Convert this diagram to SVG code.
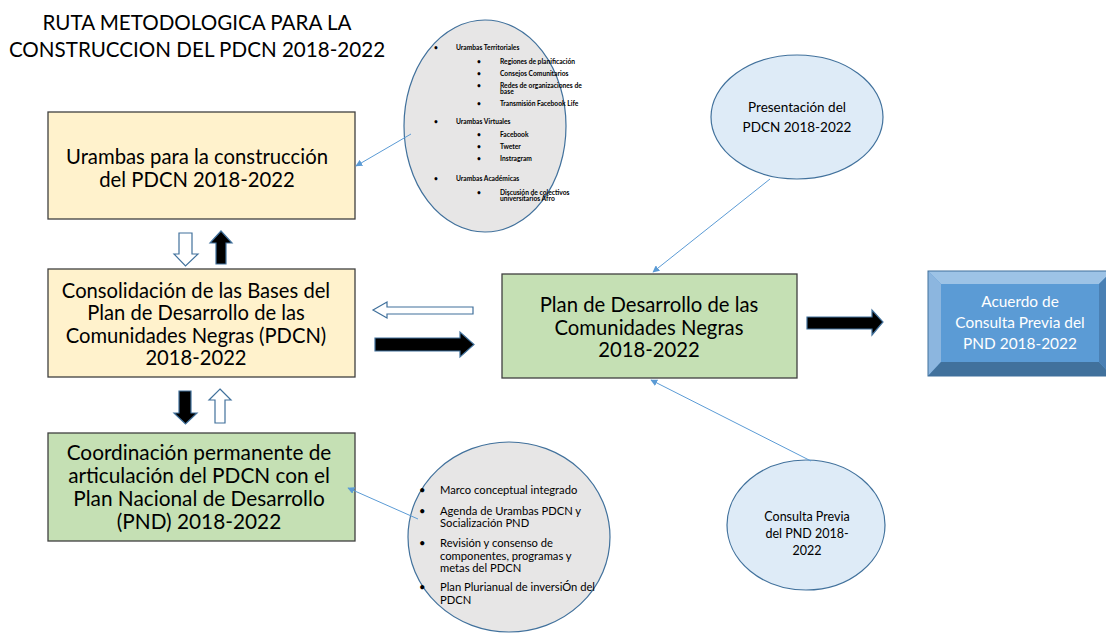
<svg xmlns="http://www.w3.org/2000/svg" width="1106" height="639" viewBox="0 0 1106 639">
<defs>
<style>
.t{font-family:Lato,"Liberation Sans",sans-serif;fill:#000;text-anchor:middle}
.bx{stroke:#404040;stroke-width:1.3}
.y{fill:#fff2cc}
.g{fill:#c5e0b4}
.el{fill:#deebf7;stroke:#41719c;stroke-width:1.2}
.gr{fill:#e7e6e6;stroke:#41719c;stroke-width:1.2}
.s{font-family:Lato,"Liberation Sans",sans-serif;font-size:6.7px;font-weight:bold;fill:#000}
.m{font-family:Lato,"Liberation Sans",sans-serif;font-size:11.2px;fill:#000}
.w{fill:#fff}
.ho{fill:#fff;stroke:#41719c;stroke-width:1.2}
.bk{fill:#000;stroke:#41719c;stroke-width:1.2}
.c{stroke:#5b9bd5;stroke-width:1;fill:none;marker-end:url(#ah)}
</style>
<marker id="ah" viewBox="0 0 10 10" refX="9" refY="5" markerWidth="7" markerHeight="7" orient="auto" markerUnits="userSpaceOnUse">
<path d="M0,0 L10,5 L0,10 z" fill="#5b9bd5"/>
</marker>
</defs>
<rect width="1106" height="639" fill="#fff"/>
<g id="title">
<text class="t" x="197" y="30" font-size="20.6">RUTA METODOLOGICA PARA LA</text>
<text class="t" x="197" y="57" font-size="20.6">CONSTRUCCION DEL PDCN 2018-2022</text>
</g>
<g id="urambas">
<rect class="bx y" x="48" y="112" width="307" height="107"/>
<text class="t" font-size="20.3" x="197" y="164">Urambas para la construcción</text>
<text class="t" font-size="20.3" x="197" y="187">del PDCN 2018-2022</text>
</g>
<g id="consolidacion">
<rect class="bx y" x="48" y="269" width="307" height="108"/>
<text class="t" font-size="20.2" x="196" y="298">Consolidación de las Bases del</text>
<text class="t" font-size="20.2" x="196" y="320">Plan de Desarrollo de las</text>
<text class="t" font-size="20.2" x="196" y="343">Comunidades Negras (PDCN)</text>
<text class="t" font-size="20.2" x="196" y="365">2018-2022</text>
</g>
<g id="coordinacion">
<rect class="bx g" x="48" y="433" width="307" height="108"/>
<text class="t" font-size="20.8" x="199" y="460">Coordinación permanente de</text>
<text class="t" font-size="20.8" x="199" y="483">articulación del PDCN con el</text>
<text class="t" font-size="20.8" x="199" y="506">Plan Nacional de Desarrollo</text>
<text class="t" font-size="20.8" x="199" y="529">(PND) 2018-2022</text>
</g>
<g id="plan">
<rect class="bx g" x="502" y="274" width="295" height="104"/>
<text class="t" font-size="20.3" x="649" y="312">Plan de Desarrollo de las</text>
<text class="t" font-size="20.3" x="649" y="335">Comunidades Negras</text>
<text class="t" font-size="20.3" x="649" y="357">2018-2022</text>
</g>
<g id="acuerdo">
<rect x="928" y="271" width="184" height="105" fill="#5b9bd5"/>
<polygon points="928,271 1112,271 1099,284 941,284" fill="#9dc3e6"/>
<polygon points="928,271 941,284 941,362 928,376" fill="#8cb6df"/>
<polygon points="928,376 941,362 1099,362 1112,376" fill="#41719c"/>
<polygon points="1112,271 1099,284 1099,362 1112,376" fill="#4a80b4"/>
<rect x="941" y="284" width="158" height="78" fill="#5b9bd5"/>
<rect x="928" y="271" width="184" height="105" fill="none" stroke="#41719c" stroke-width="1"/>
<text class="t w" font-size="15.4" x="1020" y="307">Acuerdo de</text>
<text class="t w" font-size="15.4" x="1020" y="328">Consulta Previa del</text>
<text class="t w" font-size="15.4" x="1020" y="349">PND 2018-2022</text>
</g>
<g id="presentacion">
<ellipse class="el" cx="797" cy="117" rx="86" ry="62"/>
<text class="t" font-size="13.5" x="797" y="112">Presentación del</text>
<text class="t" font-size="13.5" x="797" y="132">PDCN 2018-2022</text>
</g>
<g id="consulta">
<ellipse class="el" cx="806" cy="525" rx="79" ry="65"/>
<text class="t" font-size="12.5" x="807" y="521">Consulta Previa</text>
<text class="t" font-size="12.5" x="807" y="538">del PND 2018-</text>
<text class="t" font-size="12.5" x="807" y="555">2022</text>
</g>
<g id="urambas-detalle">
<ellipse class="gr" cx="485" cy="126" rx="81" ry="106"/>
<text class="s" x="434" y="50">•</text><text class="s" x="456" y="50">Urambas Territoriales</text>
<text class="s" x="477" y="64">•</text><text class="s" x="500" y="64">Regiones de planificación</text>
<text class="s" x="477" y="76">•</text><text class="s" x="500" y="76">Consejos Comunitarios</text>
<text class="s" x="477" y="88">•</text><text class="s" x="500" y="88">Redes de organizaciones de</text>
<text class="s" x="500" y="94">base</text>
<text class="s" x="477" y="106">•</text><text class="s" x="500" y="106">Transmisión Facebook Life</text>
<text class="s" x="434" y="124">•</text><text class="s" x="456" y="124">Urambas Virtuales</text>
<text class="s" x="477" y="137">•</text><text class="s" x="500" y="137">Facebook</text>
<text class="s" x="477" y="149">•</text><text class="s" x="500" y="149">Tweter</text>
<text class="s" x="477" y="161">•</text><text class="s" x="500" y="161">Instragram</text>
<text class="s" x="434" y="181">•</text><text class="s" x="456" y="181">Urambas Académicas</text>
<text class="s" x="477" y="195">•</text><text class="s" x="500" y="195">Discusión de colectivos</text>
<text class="s" x="500" y="201">universitarios Afro</text>
</g>
<g id="coordinacion-detalle">
<ellipse class="gr" cx="509" cy="537" rx="101" ry="95"/>
<text class="m" x="419" y="494">•</text><text class="m" x="440" y="494">Marco conceptual integrado</text>
<text class="m" x="419" y="515">•</text><text class="m" x="440" y="515">Agenda de Urambas PDCN y</text>
<text class="m" x="440" y="527">Socialización PND</text>
<text class="m" x="419" y="547">•</text><text class="m" x="440" y="547">Revisión y consenso de</text>
<text class="m" x="440" y="560">componentes, programas y</text>
<text class="m" x="440" y="572">metas del PDCN</text>
<text class="m" x="419" y="591">•</text><text class="m" x="440" y="591">Plan Plurianual de inversiÓn del</text>
<text class="m" x="440" y="604">PDCN</text>
</g>
<g id="connectors">
<line class="c" x1="411" y1="134" x2="356" y2="166"/>
<line class="c" x1="418" y1="519" x2="348" y2="488"/>
<line class="c" x1="770" y1="179" x2="653" y2="272"/>
<line class="c" x1="811" y1="461" x2="651" y2="380"/>
<path class="ho" d="M179,233 H192 V254 H198 L185.5,266 L174,254 H179 Z"/>
<path class="bk" d="M221,231 L232,243 H226 V264 H216 V243 H210 Z"/>
<path class="bk" d="M179,391 H191 V413 H197 L185.5,424 L174,413 H179 Z"/>
<path class="ho" d="M220,389 L231,400 H225 V423 H215 V400 H209 Z"/>
<path class="ho" d="M373,310 L387,302 V307 H473 V314 H387 V318 Z"/>
<path class="bk" d="M375,338 H460 V332 L474,344.5 L460,357 V351 H375 Z"/>
<path class="bk" d="M807,317 H872 V310 L883,322 L872,335 V329 H807 Z"/>
</g>
</svg>
